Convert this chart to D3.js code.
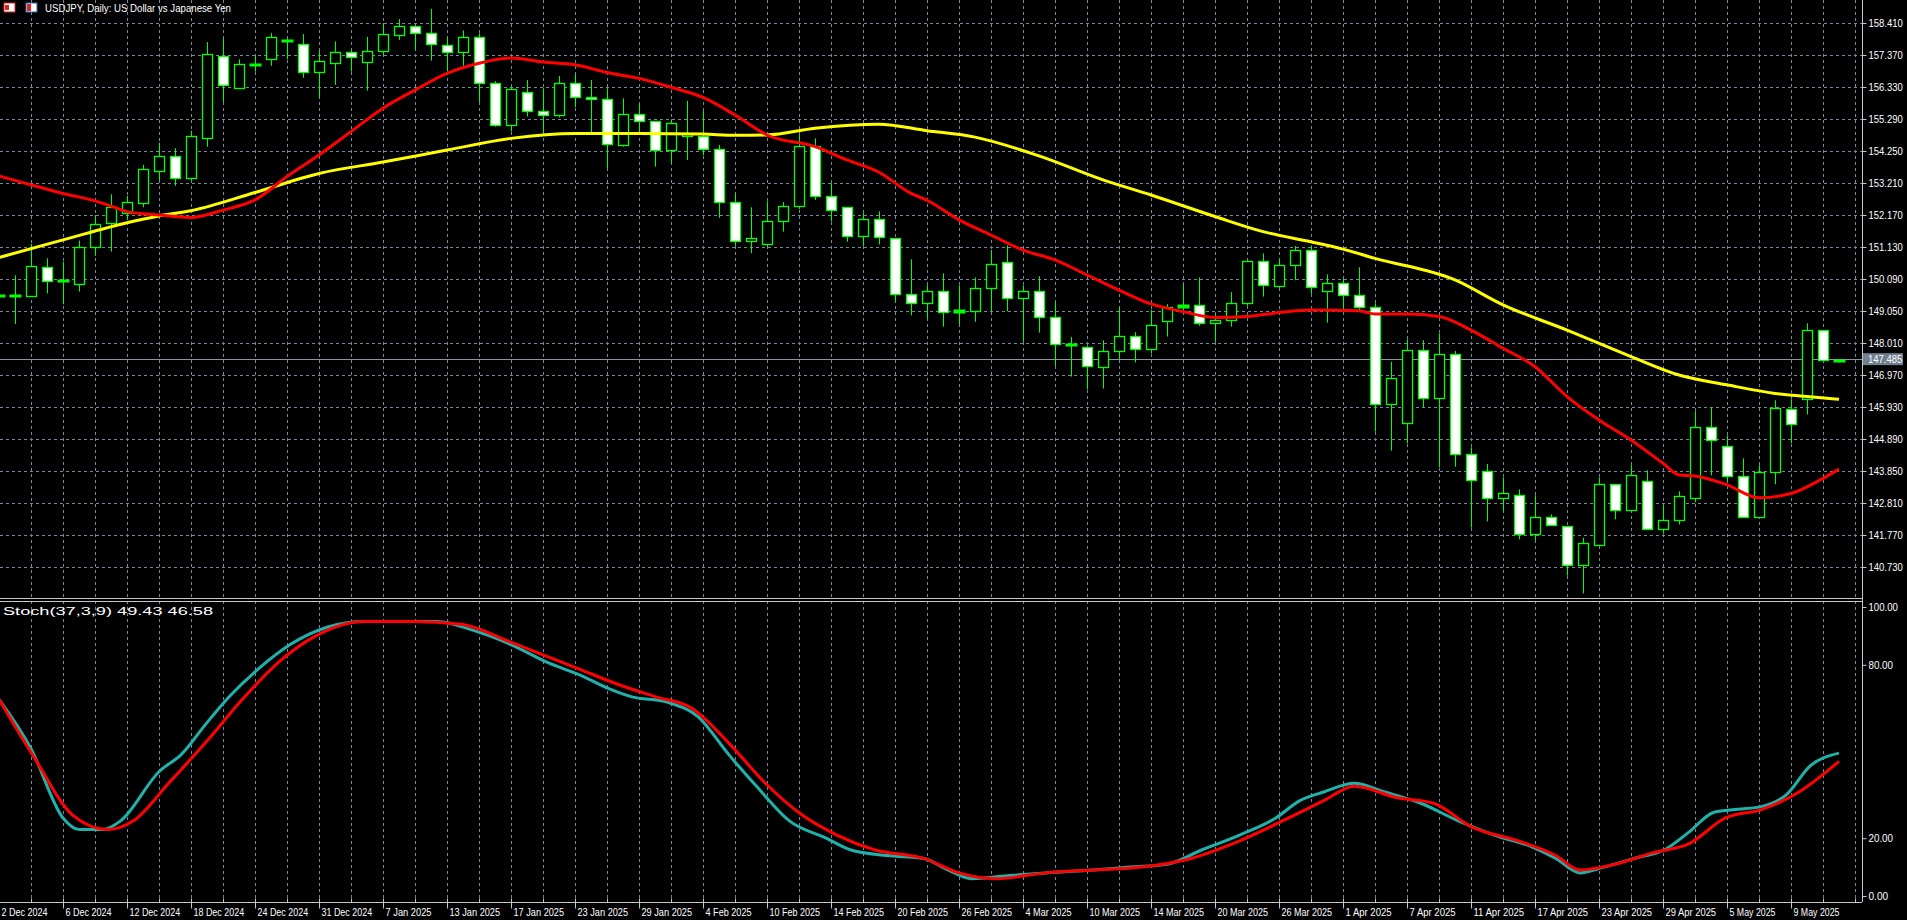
<!DOCTYPE html>
<html><head><meta charset="utf-8">
<script src="https://cdn.jsdelivr.net/npm/d3@7"></script>
<style>
html,body{margin:0;padding:0;background:#000;overflow:hidden}
svg{display:block}
text{font-family:"Liberation Sans","DejaVu Sans",sans-serif;fill:#fff}
</style></head><body>
<svg id="c" width="1907" height="920"></svg>
<script>
// ---- data ----
const opens  = [149.58,149.56,149.56,150.47,150.06,149.95,151.14,151.89,152.25,152.55,153.58,154.08,153.36,154.66,157.35,156.29,157.06,157.23,157.87,157.72,156.81,157.10,157.46,157.13,157.49,158.01,158.30,158.07,157.68,157.46,
157.94,156.45,155.07,156.16,155.54,155.41,156.45,155.99,155.93,154.42,155.44,155.21,154.27,154.73,154.73,154.30,152.58,151.31,151.22,151.96,152.45,154.40,152.78,152.42,151.48,152.03,151.41,149.59,149.30,
149.69,149.01,149.04,149.79,150.63,149.46,149.69,148.84,147.99,147.87,147.22,147.74,148.23,147.80,148.71,149.17,149.23,148.65,148.75,149.30,150.66,149.85,150.53,151.02,149.69,149.95,149.56,149.17,
146.02,145.40,147.77,146.21,147.64,144.39,143.84,142.96,143.06,141.79,142.34,142.05,140.79,141.43,143.42,142.57,143.51,141.95,142.25,142.96,145.27,144.65,143.68,142.34,143.81,145.86,146.18,148.42,147.45];
const highs  = [149.73,150.21,151.23,150.76,150.65,151.34,152.17,152.84,152.79,153.80,154.52,154.34,154.91,157.79,157.91,157.23,157.35,158.09,157.91,158.05,157.51,157.81,157.55,157.96,158.41,158.54,158.35,158.87,157.94,158.17,
158.07,156.52,156.34,156.56,156.29,156.69,156.75,156.56,156.29,155.96,155.77,155.21,155.28,155.88,155.55,154.45,152.87,152.42,152.61,152.59,154.77,154.66,153.20,152.42,152.23,152.29,151.41,150.73,149.89,
150.27,149.88,150.14,151.03,151.18,149.88,150.18,149.33,148.21,147.93,148.10,149.18,148.36,149.09,149.27,149.92,150.14,148.94,149.66,150.66,150.92,150.73,151.16,151.18,150.24,150.11,150.47,149.30,
147.40,148.13,148.10,148.32,147.75,144.62,144.08,143.64,143.25,143.06,142.44,142.05,141.68,143.64,143.42,144.04,143.87,142.73,143.19,145.79,145.92,145.01,144.26,144.04,146.15,146.18,148.65,148.42,147.45];
const lows   = [149.41,148.63,149.56,149.62,149.27,149.68,150.84,150.98,152.01,152.42,153.29,153.12,153.31,154.39,155.85,156.29,156.83,157.02,157.23,156.63,155.98,156.40,156.83,156.21,157.35,157.86,157.53,157.19,156.83,157.02,
155.85,155.04,154.88,155.37,154.82,155.34,155.67,154.82,153.69,154.39,154.82,153.74,153.87,153.96,154.11,152.08,151.17,150.93,151.14,151.63,152.36,152.66,151.96,151.30,151.17,151.21,149.36,148.91,148.81,
148.54,148.61,148.70,149.04,149.04,148.05,148.35,147.27,146.92,146.50,146.53,147.48,147.38,147.67,148.22,149.06,148.57,148.05,148.54,149.22,149.52,149.79,150.05,149.61,148.67,149.08,149.08,145.13,
144.51,144.75,145.92,143.97,143.99,142.01,142.21,142.56,141.63,141.59,142.08,140.45,139.87,141.43,142.28,142.57,141.95,141.82,142.11,142.83,143.71,143.51,142.34,142.34,143.42,144.75,145.69,147.45,147.38];
const closes = [149.58,149.58,150.52,150.01,150.06,151.14,151.89,152.42,152.60,153.66,154.08,153.36,154.73,157.39,156.42,157.07,157.07,157.94,157.86,156.81,157.16,157.46,157.29,157.49,158.04,158.30,158.07,157.72,157.46,157.94,
156.45,155.07,156.25,155.54,155.41,156.45,155.99,155.91,154.47,155.44,155.21,154.27,155.15,154.80,154.30,152.58,151.31,151.41,151.96,152.45,154.40,152.78,152.32,151.48,152.03,151.44,149.59,149.30,149.69,
149.01,149.07,149.79,150.57,149.46,149.69,148.84,147.97,147.99,147.25,147.74,148.23,147.80,148.58,149.17,149.23,148.65,148.75,149.30,150.66,149.88,150.53,151.02,149.82,149.95,149.56,149.17,146.02,
146.86,147.77,146.21,147.64,144.39,143.55,142.96,143.12,141.79,142.34,142.08,140.79,141.50,143.42,142.57,143.71,141.95,142.25,143.03,145.27,144.85,143.68,142.34,143.81,145.89,145.37,148.42,147.45,147.41];

const maFastIdx = [0,2,4,6,7,8,10,12,14,16,18,20,22,24,26,28,30,32,34,36,38,40,42,44,46,48,51,53,55,57,58,60,62,64,66,68,70,72,74,76,78,80,82,85,86,88,90,92,94,96,98,100,102,104,105,106,108,110,112,114,115];
const maFastVal = [153.44,153.15,152.87,152.63,152.46,152.28,152.17,152.09,152.33,152.66,153.42,154.12,154.88,155.64,156.23,156.77,157.10,157.27,157.14,157.05,156.80,156.61,156.32,155.99,155.42,154.77,154.39,153.96,153.56,152.87,152.65,152.01,151.52,151.03,150.71,150.22,149.73,149.28,149.03,148.84,148.87,149.00,149.08,149.06,148.95,148.95,148.87,148.43,147.84,147.24,146.27,145.51,144.86,144.10,143.72,143.69,143.40,142.98,143.12,143.61,143.91];
const maSlowIdx = [0,4,8,10,12,16,20,24,28,32,36,40,44,46,48,51,55,58,61,65,69,72,76,79,82,84,86,91,94,98,102,105,108,111,113,115];
const maSlowVal = [150.79,151.36,151.92,152.14,152.31,152.90,153.52,153.89,154.28,154.66,154.82,154.82,154.80,154.76,154.77,154.99,155.12,154.91,154.70,154.09,153.31,152.82,152.12,151.63,151.30,151.06,150.76,150.06,149.25,148.43,147.57,146.97,146.65,146.37,146.27,146.18];

const stochKIdx = [0,2,4,5,6.5,7.6,10,11.4,13,14.4,16.3,18.2,20.5,22.8,25,27.4,29.6,32,34.2,36.5,38,39.5,41.8,43.7,45.6,47.5,49.4,51.7,53.2,55.5,57.8,59.3,60.8,63,65.4,68.4,70.7,73,75.2,77.5,79.8,81.3,82.8,84.7,86.6,88.9,91.2,93.5,95.8,97.3,98.8,100.3,102.2,104.1,105.6,107.2,108.7,110.2,111.7,113.2,115];
const stochKVal = [68,51,27,23,23,26,43,49,60,69,79,87,93,95,95,95,92,87,81,76,72,69,67,62,49,37,26,20,16,14,13,9,6,7,8,9,10,11,16,21,27,33,36,39,36,32,26,21,17,13,8,10,13,16,22,29,30,31,35,45,49.43];
const stochDIdx = [0,2.3,4.6,6.8,8.4,10.6,12.9,15.2,17.5,19.8,22.8,25.8,28.9,31.9,34.2,36.5,38.8,41,43.3,45.6,47.9,50.2,52.4,54.7,57.8,60,62.3,65.4,68.4,71.4,74.5,77.5,80.6,82.8,84.7,87.4,89.7,92,95,97.3,98.8,101,103.4,105.6,107.9,110.2,112.5,115];
const stochDVal = [68,47,28,23,26,39,53,68,81,90,95,95,94,88,83,78,73,69,65,53,39,28,21,16,13,8,6,8,9,10,13,19,27,33,38,34,32,24,19,14,9,11,15,18,27,30,36,46.58];

const priceTicks = [158.410,157.370,156.330,155.290,154.250,153.210,152.170,151.130,150.090,149.050,148.010,146.970,145.930,144.890,143.850,142.810,141.770,140.730];
const stochTicks = [100,80,20,0];
const dateLabels = ["2 Dec 2024","6 Dec 2024","12 Dec 2024","18 Dec 2024","24 Dec 2024","31 Dec 2024","7 Jan 2025","13 Jan 2025","17 Jan 2025","23 Jan 2025","29 Jan 2025","4 Feb 2025","10 Feb 2025","14 Feb 2025","20 Feb 2025","26 Feb 2025","4 Mar 2025","10 Mar 2025","14 Mar 2025","20 Mar 2025","26 Mar 2025","1 Apr 2025","7 Apr 2025","11 Apr 2025","17 Apr 2025","23 Apr 2025","29 Apr 2025","5 May 2025","9 May 2025"];
const lastPrice = 147.485;

// ---- layout ----
const svg = d3.select("#c");
const W = 1907, axisX = 1862;
const mainTop = 0, mainBot = 598, stTop = 601, stBot = 902;
const x = d3.scaleLinear().domain([0,1]).range([-1,15]);
const y = d3.scaleLinear().domain([140.73,158.41]).range([567,23]);
const ys = d3.scaleLinear().domain([0,100]).range([896,607]);
const grid = "#778899";
const fit = (sel, perChar) => sel.attr("textLength", function(){return this.textContent.length*perChar;}).attr("lengthAdjust","spacingAndGlyphs");

svg.append("rect").attr("width",W).attr("height",920).attr("fill","#000");

// grids
const g = svg.append("g");
const nb = opens.length;
for (let i=2;i<=nb+2;i+=2){
  const xx = Math.round(x(i))+0.5;
  if (xx>axisX) continue;
  g.append("line").attr("x1",xx).attr("x2",xx).attr("y1",mainTop).attr("y2",mainBot).attr("stroke",grid).attr("stroke-dasharray","3,3");
  g.append("line").attr("x1",xx).attr("x2",xx).attr("y1",stTop).attr("y2",stBot).attr("stroke",grid).attr("stroke-dasharray","3,3");
}
priceTicks.forEach(p=>{
  const yy=Math.round(y(p))+0.5;
  g.append("line").attr("x1",0).attr("x2",axisX).attr("y1",yy).attr("y2",yy).attr("stroke",grid).attr("stroke-dasharray","3,3");
});

// last price line
g.append("line").attr("x1",0).attr("x2",axisX).attr("y1",Math.round(y(lastPrice))+0.5).attr("y2",Math.round(y(lastPrice))+0.5).attr("stroke","#8a96a3");

// candles
const c = svg.append("g");
for (let i=0;i<nb;i++){
  const xc = Math.round(x(i))+0.5;
  const bull = closes[i]>=opens[i];
  const top = y(Math.max(opens[i],closes[i])), bot = y(Math.min(opens[i],closes[i]));
  c.append("line").attr("x1",xc).attr("x2",xc).attr("y1",y(highs[i])).attr("y2",y(lows[i])).attr("stroke","#00ff00");
  const h = Math.max(bot-top,1);
  c.append("rect").attr("x",xc-5).attr("y",Math.round(top)+0.5).attr("width",10).attr("height",Math.round(h))
    .attr("fill",bull?"#000":"#fff").attr("stroke","#00ff00").attr("stroke-width",h<2?2:1.3);
}

// moving averages
const mline = d3.line().x(d=>x(d[0])).y(d=>y(d[1])).curve(d3.curveMonotoneX);
svg.append("path").attr("d",mline(maSlowIdx.map((v,i)=>[v,maSlowVal[i]]))).attr("fill","none").attr("stroke","#ffff00").attr("stroke-width",3);
svg.append("path").attr("d",mline(maFastIdx.map((v,i)=>[v,maFastVal[i]]))).attr("fill","none").attr("stroke","#ff0000").attr("stroke-width",3);

// stochastic
const sline = d3.line().x(d=>x(d[0])).y(d=>ys(d[1])).curve(d3.curveMonotoneX);
svg.append("path").attr("d",sline(stochKIdx.map((v,i)=>[v,stochKVal[i]]))).attr("fill","none").attr("stroke","#20b2aa").attr("stroke-width",3);
svg.append("path").attr("d",sline(stochDIdx.map((v,i)=>[v,stochDVal[i]]))).attr("fill","none").attr("stroke","#ff0000").attr("stroke-width",3);

// panel borders
svg.append("rect").attr("x",axisX).attr("y",0).attr("width",W-axisX).attr("height",920).attr("fill","#000");
svg.append("line").attr("x1",0).attr("x2",axisX).attr("y1",mainBot+0.5).attr("y2",mainBot+0.5).attr("stroke","#c8c8c8");
svg.append("line").attr("x1",0).attr("x2",axisX).attr("y1",stTop+0.5).attr("y2",stTop+0.5).attr("stroke","#c8c8c8");
svg.append("line").attr("x1",0).attr("x2",axisX).attr("y1",stBot+0.5).attr("y2",stBot+0.5).attr("stroke","#c8c8c8");
svg.append("line").attr("x1",axisX+0.5).attr("x2",axisX+0.5).attr("y1",0).attr("y2",stBot).attr("stroke","#c8c8c8");

// axes
const ax = svg.append("g").attr("transform",`translate(${axisX+0.5},0)`)
  .call(d3.axisRight(y).tickValues(priceTicks).tickSize(4).tickFormat(d3.format(".3f")));
const ax2 = svg.append("g").attr("transform",`translate(${axisX+0.5},0)`)
  .call(d3.axisRight(ys).tickValues(stochTicks).tickSize(4).tickFormat(d3.format(".2f")));
[ax,ax2].forEach(a=>{a.select(".domain").remove();a.selectAll("line").attr("stroke","#c8c8c8");
  const t=a.selectAll("text").attr("fill","#fff").attr("font-size",10).attr("x",6); fit(t,4.9);});

// last price tag
const ly = y(lastPrice);
svg.append("rect").attr("x",axisX+1).attr("y",ly-6).attr("width",40).attr("height",12).attr("fill","#708090");
fit(svg.append("text").attr("x",axisX+6).attr("y",ly+4).attr("font-size",10).text(lastPrice.toFixed(3)),4.9);

// x axis
const xa = svg.append("g").attr("transform",`translate(0,${stBot+0.5})`);
for (let i=0;i<=nb;i+=2){
  const xx=Math.round(x(i))+0.5;
  if (xx<0||xx>axisX) continue;
  xa.append("line").attr("x1",xx).attr("x2",xx).attr("y1",0).attr("y2",-4).attr("stroke","#c8c8c8");
}
dateLabels.forEach((t,k)=>{
  const xx=Math.round(x(k*4))+0.5;
  xa.append("line").attr("x1",xx).attr("x2",xx).attr("y1",0).attr("y2",6).attr("stroke","#c8c8c8");
  fit(xa.append("text").attr("x",xx+2).attr("y",13).attr("font-size",11).text(t),4.6);
});

// titles
const tg = svg.append("g");
tg.append("rect").attr("x",4).attr("y",3).attr("width",11).attr("height",9).attr("fill","#fff").attr("stroke","#d22");
tg.append("rect").attr("x",5).attr("y",5).attr("width",4).attr("height",5).attr("fill","#d22");
tg.append("rect").attr("x",26).attr("y",3).attr("width",11).attr("height",9).attr("fill","#fff").attr("stroke","#2a5ca8");
tg.append("rect").attr("x",27).attr("y",4).attr("width",4).attr("height",7).attr("fill","#d22");
tg.append("text").attr("x",45).attr("y",12).attr("font-size",11).attr("textLength",186).attr("lengthAdjust","spacingAndGlyphs").text("USDJPY, Daily:  US Dollar vs Japanese Yen");
svg.append("text").attr("x",3).attr("y",615).attr("font-size",10).attr("textLength",210).attr("lengthAdjust","spacingAndGlyphs").text("Stoch(37,3,9) 49.43 46.58");
</script>
</body></html>
